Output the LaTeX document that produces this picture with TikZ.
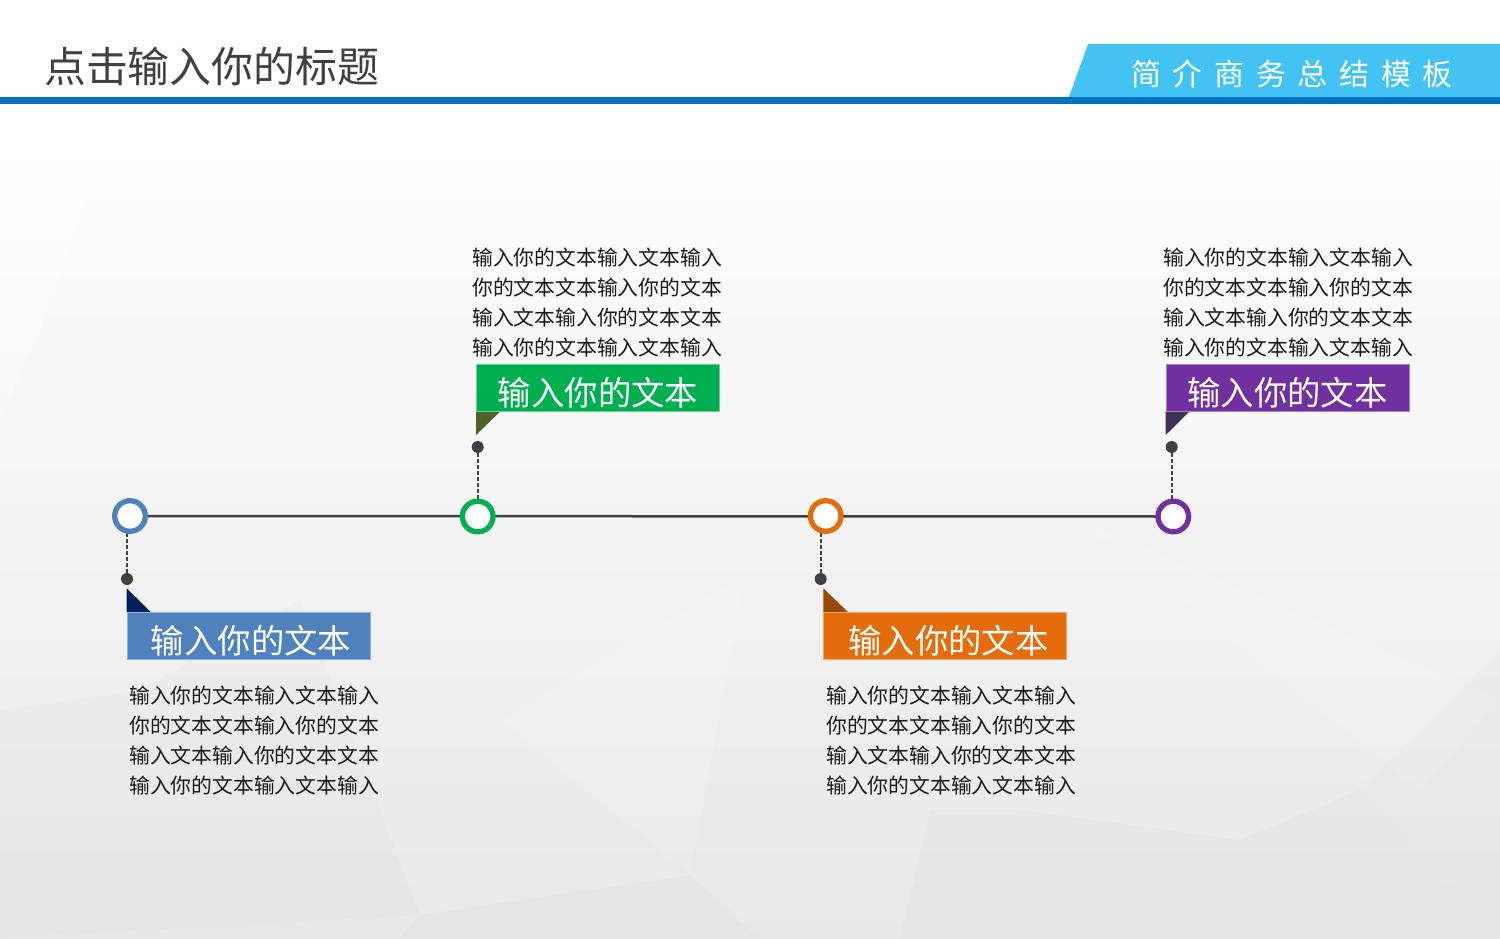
\documentclass[tikz,border=0pt]{standalone}
\usepackage{fontspec}
\setmainfont{Noto Sans CJK SC}
\definecolor{bgbot}{HTML}{E8E8E8}
\definecolor{bgmid}{HTML}{F6F6F6}
\definecolor{titlegray}{HTML}{404040}
\definecolor{barblue}{HTML}{0070C0}
\definecolor{bannerblue}{HTML}{43C3F3}
\definecolor{lineg}{HTML}{404040}
\definecolor{cblue}{HTML}{4F81BD}
\definecolor{cgreen}{HTML}{00B050}
\definecolor{corange}{HTML}{E46C0A}
\definecolor{cpurple}{HTML}{7030A0}
\definecolor{tblue}{HTML}{002060}
\definecolor{tgreen}{HTML}{4F6228}
\definecolor{torange}{HTML}{984807}
\definecolor{tpurple}{HTML}{3F3151}
\definecolor{bodycol}{HTML}{1A1A1A}
\begin{document}
\begin{tikzpicture}[x=1pt,y=-1pt,
  ring/.style={circle,fill=white,draw=#1,line width=5.3pt,minimum size=30.6pt,inner sep=0pt},
  dotnode/.style={circle,fill=lineg,minimum size=12pt,inner sep=0pt},
  dashline/.style={draw=lineg,line width=1.8pt,dash pattern=on 4pt off 2pt},
  labelbox/.style={fill=#1,draw=#1!60!white,line width=0.8pt,minimum width=243pt,minimum height=47pt,inner sep=0pt},
  labeltxt/.style={text=white,font=\fontsize{33.4}{36}\selectfont,anchor=base,inner sep=0pt},
  bodytxt/.style={text=bodycol,font=\fontsize{20.8}{24}\selectfont,anchor=base west,inner sep=0pt},
]
\useasboundingbox (0,0) rectangle (1500,938);
% background
\fill[white] (0,0) rectangle (1500,938);
\shade[top color=white,bottom color=bgmid] (0,104) rectangle (1500,450);
\shade[top color=bgmid,bottom color=bgbot] (0,450) rectangle (1500,938);
% faint low-poly facets
\fill[white,opacity=0.35] (0,104) -- (120,104) -- (40,330) -- (0,420) -- cycle;
\fill[white,opacity=0.3] (560,104) -- (760,104) -- (700,300) -- cycle;
\fill[white,opacity=0.25] (1380,104) -- (1500,104) -- (1500,250) -- cycle;
\fill[black,opacity=0.012] (0,710) -- (140,690) -- (300,600) -- (420,915) -- (0,938) -- cycle;
\fill[black,opacity=0.015] (420,915) -- (690,875) -- (760,938) -- (400,938) -- cycle;
\fill[black,opacity=0.015] (930,810) -- (1020,810) -- (1240,840) -- (1360,790) -- (1500,938) -- (900,938) -- cycle;
\fill[white,opacity=0.12] (690,875) -- (500,720) -- (745,575) -- cycle;
\fill[white,opacity=0.12] (1080,520) -- (1500,700) -- (1420,790) -- cycle;
\fill[black,opacity=0.012] (1360,790) -- (1500,650) -- (1500,938) -- cycle;
% header
\node[text=titlegray,font=\fontsize{41.9}{44}\selectfont,anchor=base west,inner sep=0pt] (title) at (44,82.2) {点击输入你的标题};
\fill[bannerblue] (1088,44) -- (1500,44) -- (1500,97) -- (1069,97) -- cycle;
\fill[barblue] (0,96.7) rectangle (1500,104);
\node[text=white,font=\fontsize{30}{32}\selectfont,anchor=base,inner sep=0pt] (banner) at (1292,85.7)
  {简\hspace{11.7pt}介\hspace{11.7pt}商\hspace{11.7pt}务\hspace{11.7pt}总\hspace{11.7pt}结\hspace{11.7pt}模\hspace{11.7pt}板};
% timeline anchors
\coordinate (c1) at (130,516);
\coordinate (c2) at (477.7,516.5);
\coordinate (c3) at (825.7,516);
\coordinate (c4) at (1173.3,516.5);
\node[dotnode] (d1) at (127,579) {};
\node[dotnode] (d2) at (477.7,447) {};
\node[dotnode] (d3) at (820.7,579) {};
\node[dotnode] (d4) at (1171.7,447) {};
\draw[lineg,line width=2.5pt] (c1) -- (c4);
\draw[dashline] (d1.center) -- (127,516);
\draw[dashline] (d2.center) -- (c2);
\draw[dashline] (d3.center) -- (820.7,516);
\draw[dashline] (d4.center) -- (1171.7,516);
\node[ring=cblue] (r1) at (c1) {};
\node[ring=cgreen] (r2) at (c2) {};
\node[ring=corange] (r3) at (c3) {};
\node[ring=cpurple] (r4) at (c4) {};
% label boxes with flags
\fill[tblue] (126.7,588.3) -- (151,612.3) -- (126.7,612.3) -- cycle;
\node[labelbox=cblue,anchor=north west] (b1) at (126.7,612.3) {};
\node[labeltxt] (l1) at (251,653.5) {输入你的文本};
\fill[tgreen] (476,411) -- (500.7,411) -- (476,435) -- cycle;
\node[labelbox=cgreen,anchor=north west] (b2) at (476,364) {};
\node[labeltxt] (l2) at (598,405.5) {输入你的文本};
\fill[torange] (823.3,588.3) -- (848.3,612.3) -- (823.3,612.3) -- cycle;
\node[labelbox=corange,anchor=north west] (b3) at (823.3,612.3) {};
\node[labeltxt] (l3) at (948.5,653.5) {输入你的文本};
\fill[tpurple] (1165.7,411) -- (1190,411) -- (1165.7,435) -- cycle;
\node[labelbox=cpurple,anchor=north west] (b4) at (1165.7,364) {};
\node[labeltxt] (l4) at (1287.5,405.5) {输入你的文本};
% body text
\foreach \bx/\by/\nm in {129/703.3/a,472/265.3/b,826/703.3/c,1163/265.3/d}{
  \foreach \ln [count=\k] in {输入你的文本输入文本输入,你的文本文本输入你的文本,输入文本输入你的文本文本,输入你的文本输入文本输入}{
    \node[bodytxt] (txt\nm\k) at (\bx,\by+30*\k-30) {\ln};
  }
}
\end{tikzpicture}
\end{document}
